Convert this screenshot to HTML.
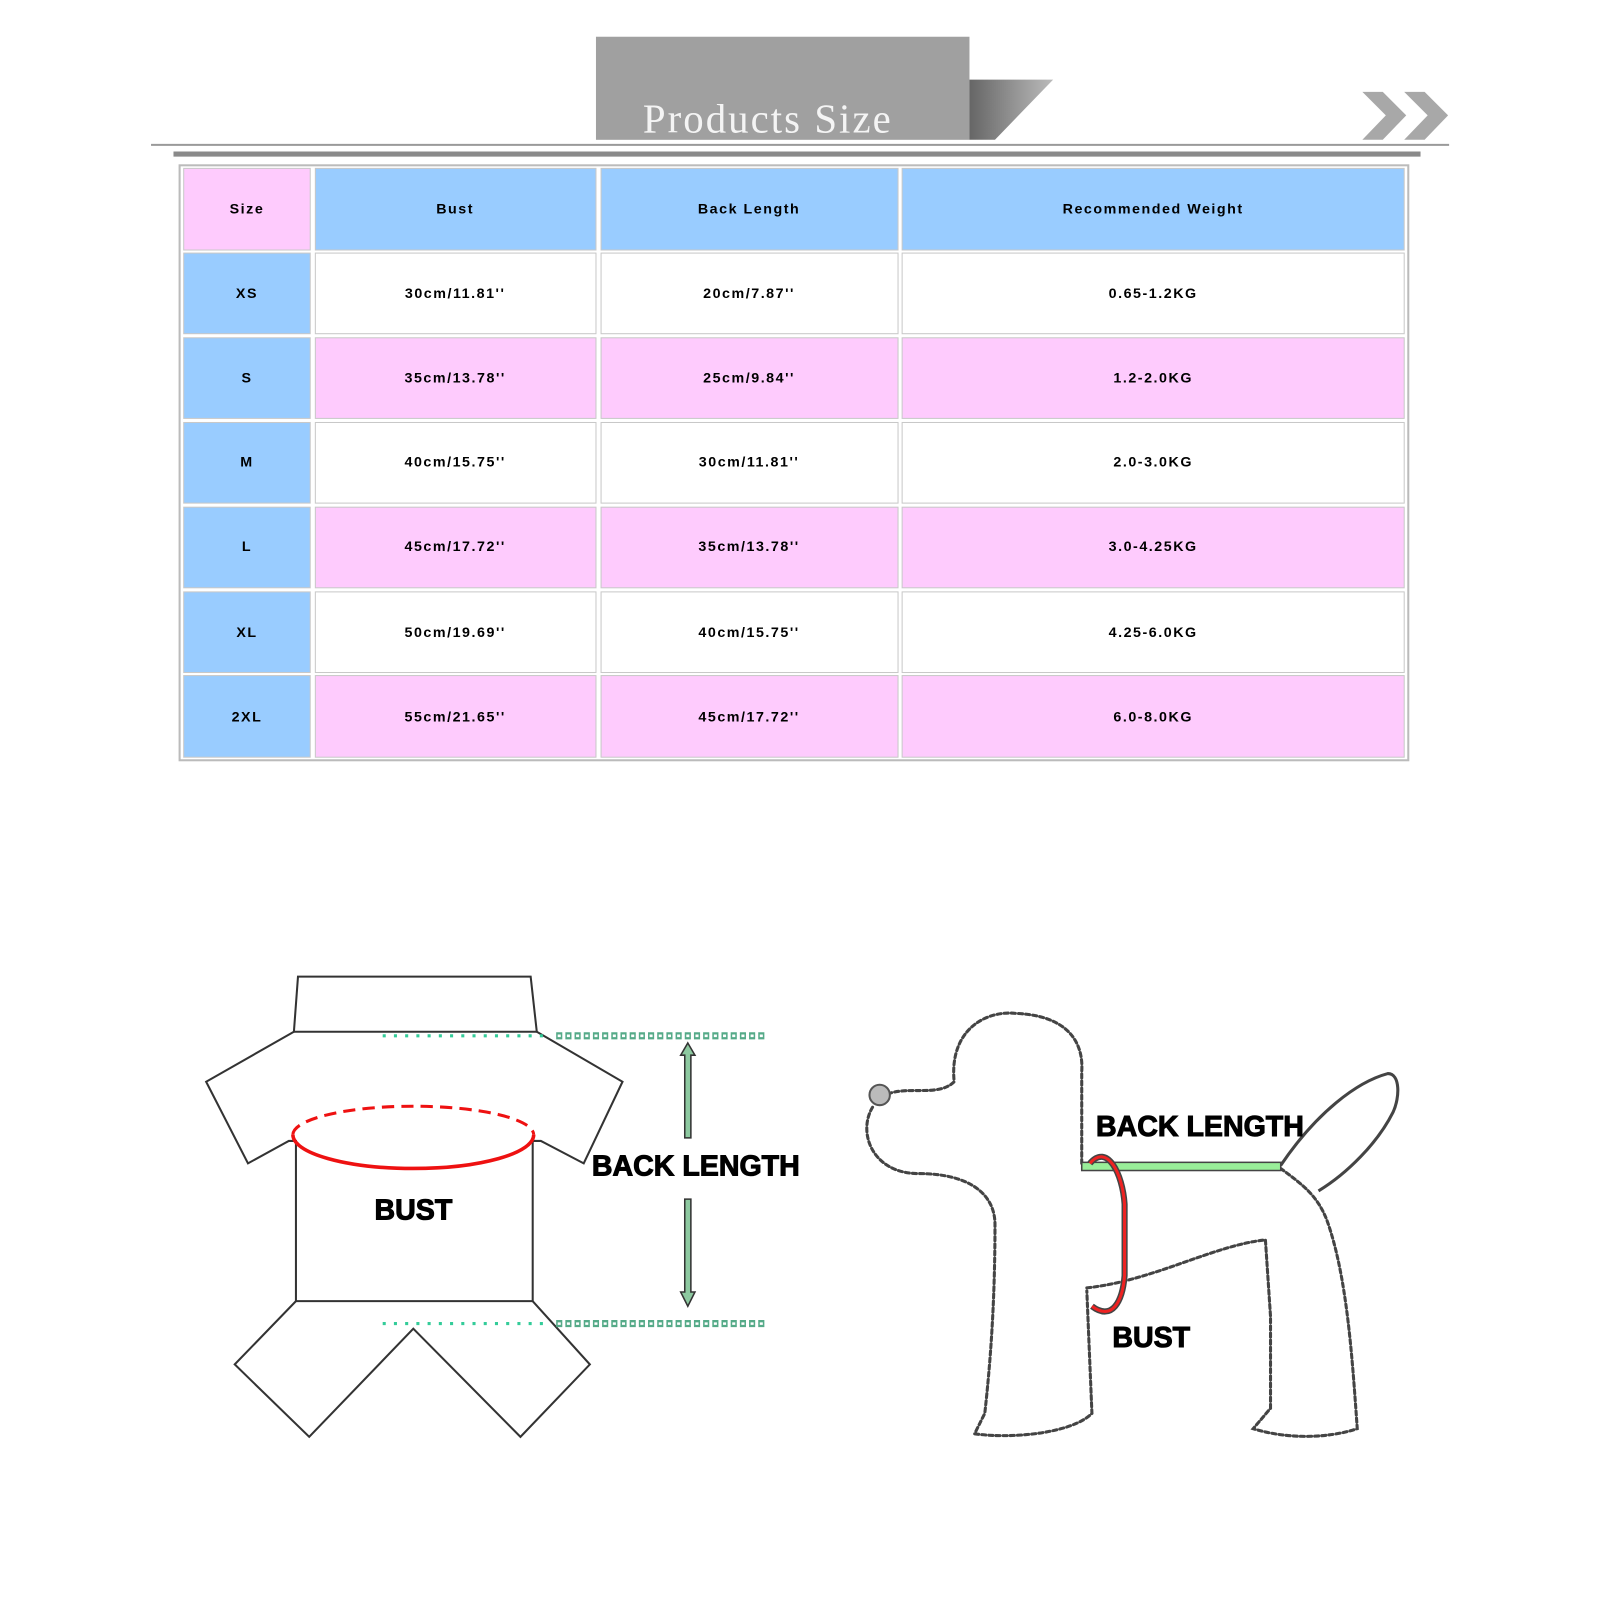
<!DOCTYPE html>
<html><head><meta charset="utf-8"><style>
html,body{margin:0;padding:0;background:#fff;width:1600px;height:1600px;overflow:hidden}
svg{display:block}
.t{font-family:"Liberation Sans",Arial,sans-serif;font-weight:bold;font-size:14px;fill:#000;text-anchor:middle;letter-spacing:1.5px}
.big{font-family:"Liberation Sans",Arial,sans-serif;font-weight:900;font-size:28px;fill:#000;stroke:#000;stroke-width:1}
</style></head><body>
<svg width="1600" height="1600" viewBox="0 0 1600 1600" xmlns="http://www.w3.org/2000/svg">
<defs><linearGradient id="sh" x1="0" y1="0" x2="1" y2="0"><stop offset="0" stop-color="#666"/><stop offset="1" stop-color="#bbb"/></linearGradient></defs>
<g transform="scale(1.0205)">
<!-- header -->
<polygon points="950,78 1032,78 975,137 950,137" fill="url(#sh)"/>
<rect x="584" y="36" width="366" height="101" fill="#a0a0a0"/>
<text x="630" y="130" font-family="Liberation Serif,serif" font-size="40" fill="#f4f4f4" letter-spacing="2">Products Size</text>
<line x1="148" y1="142" x2="1420" y2="142" stroke="#9a9a9a" stroke-width="2"/>
<line x1="170" y1="151" x2="1392" y2="151" stroke="#8a8a8a" stroke-width="5"/>
<polygon points="1335,90 1355,90 1378,113 1355,137 1335,137 1358,113" fill="#a8a8a8"/>
<polygon points="1376,90 1396,90 1419,113 1396,137 1376,137 1399,113" fill="#a8a8a8"/>
<!-- table -->
<rect x="176" y="162" width="1204" height="583" fill="#fff" stroke="#bbb" stroke-width="2"/>
<g stroke="#c8c8c8" stroke-width="1">
<rect x="180" y="165" width="124" height="80" fill="#fecbfd"/>
<rect x="309" y="165" width="275" height="80" fill="#99ccff"/>
<rect x="589" y="165" width="291" height="80" fill="#99ccff"/>
<rect x="884" y="165" width="492" height="80" fill="#99ccff"/>
</g>
<g class="t"><text x="242" y="209">Size</text><text x="446" y="209">Bust</text><text x="734" y="209">Back Length</text><text x="1130" y="209">Recommended Weight</text></g>
<g stroke="#c8c8c8" stroke-width="1">
<rect x="180" y="248" width="124" height="79" fill="#99ccff"/><rect x="309" y="248" width="275" height="79" fill="#fff"/><rect x="589" y="248" width="291" height="79" fill="#fff"/><rect x="884" y="248" width="492" height="79" fill="#fff"/>
<rect x="180" y="331" width="124" height="79" fill="#99ccff"/><rect x="309" y="331" width="275" height="79" fill="#fecbfd"/><rect x="589" y="331" width="291" height="79" fill="#fecbfd"/><rect x="884" y="331" width="492" height="79" fill="#fecbfd"/>
<rect x="180" y="414" width="124" height="79" fill="#99ccff"/><rect x="309" y="414" width="275" height="79" fill="#fff"/><rect x="589" y="414" width="291" height="79" fill="#fff"/><rect x="884" y="414" width="492" height="79" fill="#fff"/>
<rect x="180" y="497" width="124" height="79" fill="#99ccff"/><rect x="309" y="497" width="275" height="79" fill="#fecbfd"/><rect x="589" y="497" width="291" height="79" fill="#fecbfd"/><rect x="884" y="497" width="492" height="79" fill="#fecbfd"/>
<rect x="180" y="580" width="124" height="79" fill="#99ccff"/><rect x="309" y="580" width="275" height="79" fill="#fff"/><rect x="589" y="580" width="291" height="79" fill="#fff"/><rect x="884" y="580" width="492" height="79" fill="#fff"/>
<rect x="180" y="662" width="124" height="80" fill="#99ccff"/><rect x="309" y="662" width="275" height="80" fill="#fecbfd"/><rect x="589" y="662" width="291" height="80" fill="#fecbfd"/><rect x="884" y="662" width="492" height="80" fill="#fecbfd"/>
</g>
<g class="t">
<text x="242" y="292">XS</text><text x="446" y="292">30cm/11.81''</text><text x="734" y="292">20cm/7.87''</text><text x="1130" y="292">0.65-1.2KG</text>
<text x="242" y="375">S</text><text x="446" y="375">35cm/13.78''</text><text x="734" y="375">25cm/9.84''</text><text x="1130" y="375">1.2-2.0KG</text>
<text x="242" y="457">M</text><text x="446" y="457">40cm/15.75''</text><text x="734" y="457">30cm/11.81''</text><text x="1130" y="457">2.0-3.0KG</text>
<text x="242" y="540">L</text><text x="446" y="540">45cm/17.72''</text><text x="734" y="540">35cm/13.78''</text><text x="1130" y="540">3.0-4.25KG</text>
<text x="242" y="624">XL</text><text x="446" y="624">50cm/19.69''</text><text x="734" y="624">40cm/15.75''</text><text x="1130" y="624">4.25-6.0KG</text>
<text x="242" y="707">2XL</text><text x="446" y="707">55cm/21.65''</text><text x="734" y="707">45cm/17.72''</text><text x="1130" y="707">6.0-8.0KG</text>
</g>
<!-- garment -->
<g fill="none" stroke="#333" stroke-width="2" stroke-linejoin="miter">
<path d="M292,957 L520,957 L526,1011 L288,1011 Z"/>
<path d="M288,1011 L202,1060 L243,1140 L283,1118 L290,1118 L290,1275 L522,1275 L522,1118 L530,1118 L572,1140 L610,1060 L526,1011"/>
<path d="M290,1275 L230,1337 L303,1408 L405,1302 L510,1408 L578,1337 L522,1275"/>
</g>
<path d="M287,1112 A118,28 0 0 1 523,1112" fill="none" stroke="#e11" stroke-width="3" stroke-dasharray="12,7"/>
<path d="M287,1112 A118,33 0 0 0 523,1112" fill="none" stroke="#e11" stroke-width="3.5"/>
<g stroke="#3c9" stroke-width="3" stroke-dasharray="3,8"><line x1="375" y1="1015" x2="540" y2="1015"/><line x1="375" y1="1297" x2="540" y2="1297"/></g>
<g fill="none">
<path d="M545,1015 h205" stroke-dasharray="6,3" stroke-width="7" stroke="#5a8"/>
<path d="M545,1297 h205" stroke-dasharray="6,3" stroke-width="7" stroke="#5a8"/>
</g>
<g fill="none" stroke="#fff" stroke-width="2.5"><path d="M545,1015 h205" stroke-dasharray="3,6" stroke-dashoffset="-1.5"/><path d="M545,1297 h205" stroke-dasharray="3,6" stroke-dashoffset="-1.5"/></g>
<g fill="#8dc9a0" stroke="#333" stroke-width="1.5">
<path d="M674,1022 L681,1034 L677,1034 L677,1115 L671,1115 L671,1034 L667,1034 Z"/>
<path d="M671,1175 L677,1175 L677,1266 L681,1266 L674,1280 L667,1266 L671,1266 Z"/>
</g>
<text class="big" x="580" y="1152">BACK LENGTH</text>
<text class="big" x="367" y="1195">BUST</text>
<!-- dog -->
<g fill="none" stroke="#444" stroke-width="3" stroke-dasharray="4,3" stroke-linecap="round">
<path d="M870,1072 C890,1064 920,1075 935,1060 C930,1010 965,990 995,993 C1045,995 1062,1020 1060,1050 L1060,1140"/>
<path d="M855,1085 C840,1110 855,1150 900,1150 C950,1150 975,1170 975,1200 C975,1280 970,1340 965,1385 L955,1405 C990,1410 1050,1405 1070,1385 L1065,1265"/>
<path d="M1065,1262 C1130,1255 1190,1220 1240,1215 L1245,1290 L1245,1380 L1228,1400 C1260,1410 1300,1410 1330,1400 C1325,1330 1320,1250 1300,1195 C1290,1170 1275,1160 1255,1145"/>
</g>
<path d="M1255,1142 C1290,1090 1330,1060 1360,1052 C1372,1052 1372,1075 1365,1090 C1350,1120 1320,1150 1292,1167" fill="none" stroke="#444" stroke-width="3"/>
<circle cx="862" cy="1073" r="10" fill="#bbb" stroke="#555" stroke-width="2"/>
<rect x="1060" y="1139" width="195" height="8" fill="#9e9" stroke="#444" stroke-width="1.5"/>
<path d="M1068,1140 C1085,1120 1100,1150 1102,1180 L1102,1250 C1100,1275 1090,1295 1070,1280" fill="none" stroke="#444" stroke-width="6"/>
<path d="M1068,1140 C1085,1120 1100,1150 1102,1180 L1102,1250 C1100,1275 1090,1295 1070,1280" fill="none" stroke="#e22" stroke-width="3"/>
<text class="big" x="1074" y="1113">BACK LENGTH</text>
<text class="big" x="1090" y="1320">BUST</text>
</g>
</svg>
</body></html>
